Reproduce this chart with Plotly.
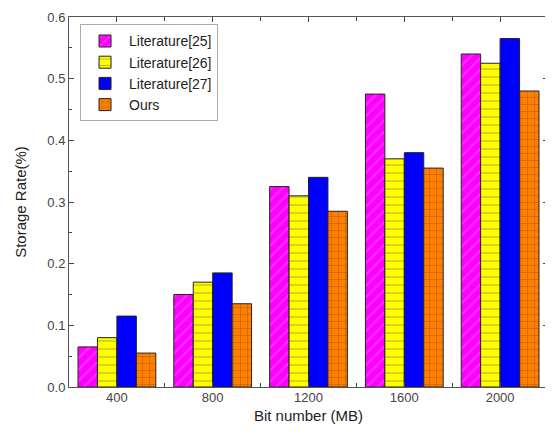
import plotly.graph_objects as go

categories = [400, 800, 1200, 1600, 2000]
lit25 = [0.065, 0.15, 0.325, 0.475, 0.54]
lit26 = [0.08, 0.17, 0.31, 0.37, 0.525]
lit27 = [0.115, 0.185, 0.34, 0.38, 0.565]
ours = [0.055, 0.135, 0.285, 0.355, 0.48]
series_names = ["Literature[25]", "Literature[26]", "Literature[27]", "Ours"]
y_ticks = [0.0, 0.1, 0.2, 0.3, 0.4, 0.5, 0.6]

fig = go.Figure()
styles = [
    dict(color="#ff00ff", pattern=dict(shape="/", fgcolor="#ff66ff", size=8, solidity=0.25)),
    dict(color="#ffff00", pattern=dict(shape="-", fgcolor="#333333", size=8, solidity=0.1)),
    dict(color="#0000ff"),
    dict(color="#ff7f00", pattern=dict(shape="+", fgcolor="#5a2a00", size=7, solidity=0.12)),
]
for name, vals, st in zip(series_names, [lit25, lit26, lit27, ours], styles):
    marker = dict(color=st["color"], line=dict(color="#222222", width=1))
    if "pattern" in st:
        marker["pattern"] = st["pattern"]
    fig.add_trace(go.Bar(x=categories, y=vals, name=name, marker=marker))

fig.update_layout(
    width=553, height=443,
    margin=dict(l=61, r=13, t=9, b=64),
    barmode="group", bargap=0.188, bargroupgap=0,
    plot_bgcolor="white", paper_bgcolor="white",
    font=dict(family="Liberation Sans, Arial", color="#333333", size=13),
    legend=dict(x=0.023, y=0.98, xanchor="left", yanchor="top",
                bordercolor="#aaaaaa", borderwidth=1, bgcolor="white",
                font=dict(size=14, color="#222222"), tracegroupgap=0,
                itemwidth=38),
)
fig.update_xaxes(
    range=[200, 2200], tickvals=categories, ticktext=[str(c) for c in categories],
    ticks="inside", ticklen=5, showgrid=False, zeroline=False, automargin=False,
    showline=True, linecolor="#555555", linewidth=1, mirror="ticks",
    minor=dict(ticks="inside", dtick=200, tick0=200, ticklen=4),
    title=dict(text="Bit number (MB)", font=dict(size=15, color="#222222"), standoff=6),
    tickfont=dict(size=13, color="#444444"), ticklabelstandoff=-2,
)
fig.update_yaxes(
    range=[0, 0.6], tickvals=y_ticks, ticktext=[f"{v:.1f}" for v in y_ticks],
    ticks="inside", ticklen=5, showgrid=False, zeroline=False, automargin=False,
    showline=True, linecolor="#555555", linewidth=1, mirror="ticks",
    minor=dict(ticks="inside", tickvals=[0.05, 0.15, 0.25, 0.35, 0.45, 0.55], ticklen=3),
    title=dict(text="Storage Rate(%)", font=dict(size=15, color="#222222"), standoff=17),
    tickfont=dict(size=13, color="#444444"), ticklabeloverflow="allow",
)
fig.write_html("out.html")
